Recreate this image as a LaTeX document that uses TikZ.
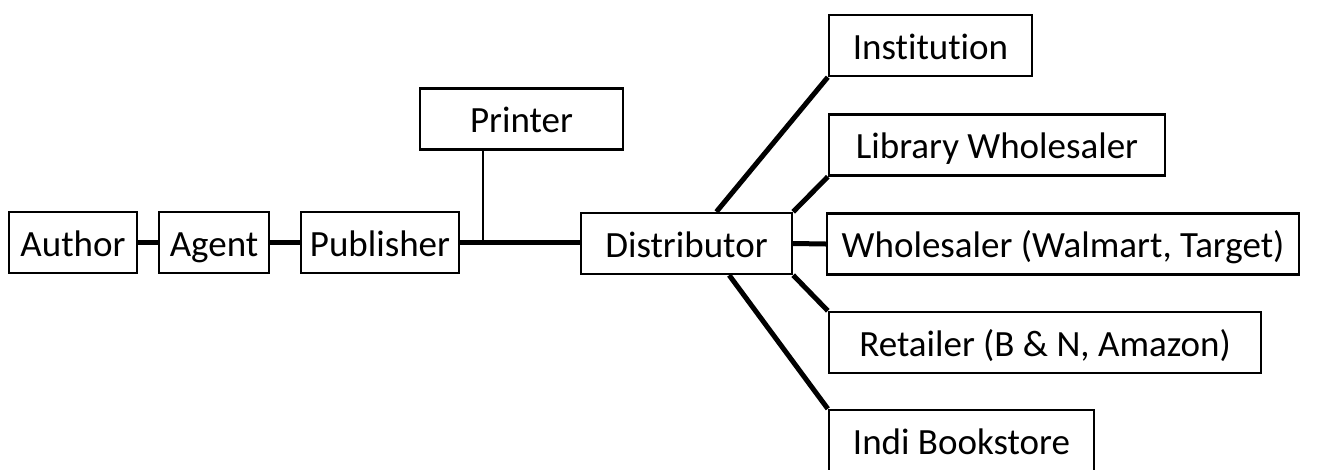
\documentclass[tikz,border=0pt]{standalone}
\usepackage{fontspec}
\setmainfont{Carlito}[Ligatures=NoCommon]
\usepackage{tikz}
\usetikzlibrary{positioning, calc}

\begin{document}
\begin{tikzpicture}[
    x=1pt, y=-1pt,
    block/.style={rectangle, draw=black, line width=2.4pt, fill=white, minimum height=61pt, inner sep=0pt, text height=27pt, text depth=0pt, font=\fontsize{37}{44}\selectfont},
    link/.style={line width=5pt},
    thinlink/.style={line width=1.6pt}
]
\useasboundingbox (0,0) rectangle (1341,469);

% Chain from author to distributor
\node[block, minimum width=128pt] (author) at (73,242.5) {Author};
\node[block, minimum width=110pt] (agent) at (214,242.5) {Agent};
\node[block, minimum width=158pt] (publisher) at (380,242.5) {Publisher};
\node[block, minimum width=203pt] (printer) at (521.5,119) {Printer};
\node[block, minimum width=211pt] (dist) at (686.5,243.5) {Distributor};

% Outlets
\node[block, minimum width=203pt] (inst) at (930.5,45.5) {Institution};
\node[block, minimum width=336pt] (libwhole) at (997,145) {Library Wholesaler};
\node[block, minimum width=472pt] (whole) at (1063,244) {Wholesaler (Walmart, Target)};
\node[block, minimum width=432pt] (retail) at (1045,342.5) {Retailer (B \& N, Amazon)};
\node[block, minimum width=265pt] (indi) at (961.5,440.5) {Indi Bookstore};

% Connectors
\coordinate (join) at (483,243.5);
\draw[link] (author) -- (agent);
\draw[link] (agent) -- (publisher);
\draw[link] (publisher.east) -- (publisher.east -| dist.west);
\draw[thinlink] (printer.south -| join) -- (join);

\draw[link] ($(dist.north west)!0.64!(dist.north east)$) -- (inst.south west);
\draw[link] (dist.north east) -- (libwhole.south west);
\draw[link] (dist.east) -- (whole.west);
\draw[link] (dist.south east) -- (retail.north west);
\draw[link] ($(dist.south west)!0.70!(dist.south east)$) -- (indi.north west);
\end{tikzpicture}
\end{document}
